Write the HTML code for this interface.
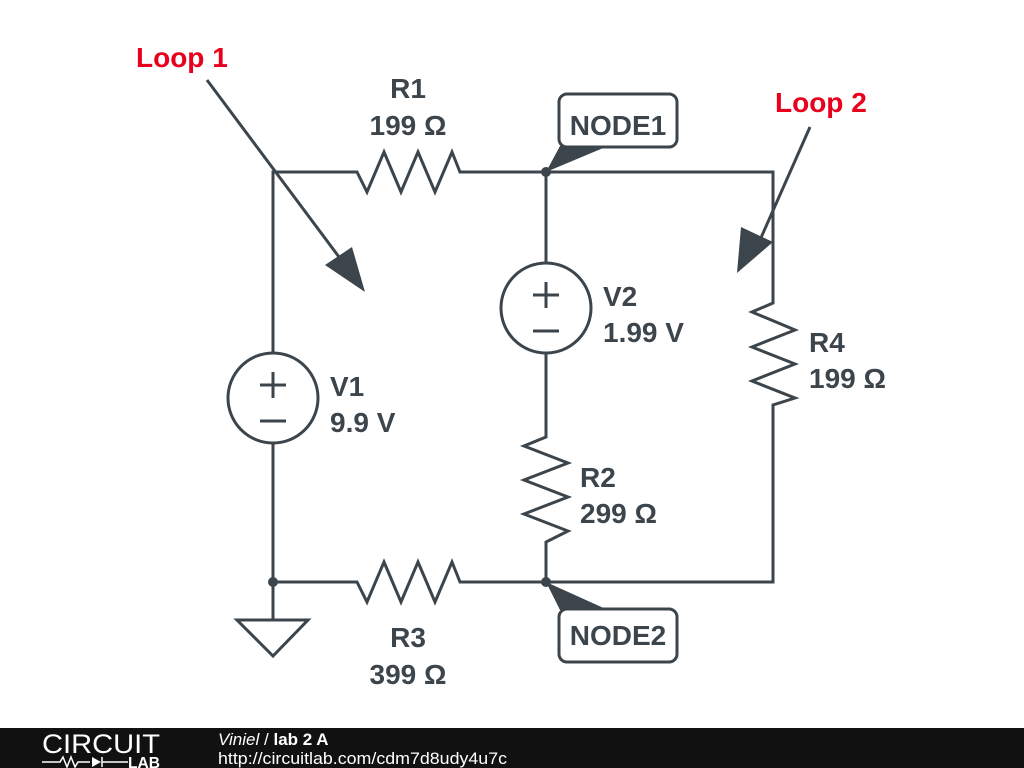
<!DOCTYPE html>
<html><head><meta charset="utf-8"><style>
body{margin:0;width:1024px;height:768px;background:#fff;overflow:hidden}
svg{display:block}
text{font-family:"Liberation Sans",sans-serif;font-weight:bold;font-size:28px;fill:#3d454c}
</style></head><body>
<svg width="1024" height="768" viewBox="0 0 1024 768">
<g stroke="#3d454c" stroke-width="3" fill="none" stroke-linejoin="miter">
<polyline points="273,352 273,172 357,172 367,192 384,152 401,192 418,152 435,192 452,152 460,172 773,172 773,303 752,312 795,330 752,347 795,364 752,381 795,398 773,405 773,582 546,582"/>
<polyline points="546,582 460,582 452,562 435,602 418,562 401,602 384,562 367,602 357,582 273,582 273,444"/>
<line x1="546" y1="172" x2="546" y2="263"/>
<polyline points="546,353 546,437 524,446 568,463 524,480 568,497 524,514 568,531 546,542 546,582"/>
<circle cx="546" cy="308" r="45"/>
<circle cx="273" cy="398" r="45"/>
<line x1="533" y1="295" x2="559" y2="295"/><line x1="546" y1="282" x2="546" y2="308"/>
<line x1="533" y1="331" x2="559" y2="331"/>
<line x1="260" y1="385" x2="286" y2="385"/><line x1="273" y1="372" x2="273" y2="398"/>
<line x1="260" y1="421" x2="286" y2="421"/>
<line x1="273" y1="582" x2="273" y2="620"/>
<polygon points="237,620 308,620 273,656"/>
<line x1="207" y1="80" x2="345" y2="265"/>
<line x1="810" y1="127" x2="760" y2="240"/>
<rect x="559" y="94" width="118" height="53" rx="8"/>
<rect x="559" y="609" width="118" height="53" rx="8"/>
</g>
<g fill="#3d454c">
<circle cx="546" cy="172" r="5"/><circle cx="546" cy="582" r="5"/><circle cx="273" cy="582" r="5"/>
<polygon points="365,292 325,265 352,247"/>
<polygon points="737,273 741,227 773,242"/>
<polygon points="546,172 560,146 608,146"/>
<polygon points="546,582 560,610 608,610"/>
</g>
<text x="408" y="98" text-anchor="middle">R1</text>
<text x="408" y="135" text-anchor="middle">199 Ω</text>
<text x="618" y="135" text-anchor="middle">NODE1</text>
<text x="618" y="645" text-anchor="middle">NODE2</text>
<text x="603" y="306">V2</text>
<text x="603" y="342">1.99 V</text>
<text x="330" y="396">V1</text>
<text x="330" y="432">9.9 V</text>
<text x="809" y="352">R4</text>
<text x="809" y="388">199 Ω</text>
<text x="580" y="487">R2</text>
<text x="580" y="523">299 Ω</text>
<text x="408" y="647" text-anchor="middle">R3</text>
<text x="408" y="684" text-anchor="middle">399 Ω</text>
<text x="136" y="67" style="fill:#e8001c">Loop 1</text>
<text x="775" y="112" style="fill:#e8001c">Loop 2</text>
<rect x="0" y="728" width="1024" height="40" fill="#111"/>
<text x="42" y="753" style="fill:#fff;font-weight:normal;font-size:27px" textLength="118" lengthAdjust="spacingAndGlyphs">CIRCUIT</text>
<polyline points="42,762 60,762 63,757 67,767 71,757 75,767 78,762 90,762" stroke="#fff" stroke-width="1.5" fill="none"/>
<polygon points="92,757 92,767 101,762" fill="#fff"/>
<line x1="102" y1="757" x2="102" y2="767" stroke="#fff" stroke-width="1.5"/>
<line x1="102" y1="762" x2="128" y2="762" stroke="#fff" stroke-width="1.5"/>
<text x="128" y="768" style="fill:#fff;font-size:16px" textLength="32" lengthAdjust="spacingAndGlyphs">LAB</text>
<text x="218" y="745" style="fill:#fff;font-size:17px;font-weight:normal;font-style:italic">Viniel <tspan style="font-style:normal">/</tspan> <tspan style="font-style:normal;font-weight:bold">lab 2 A</tspan></text>
<text x="218" y="764" style="fill:#fff;font-size:17px;font-weight:normal" textLength="289" lengthAdjust="spacingAndGlyphs">http://circuitlab.com/cdm7d8udy4u7c</text>
</svg>
</body></html>
